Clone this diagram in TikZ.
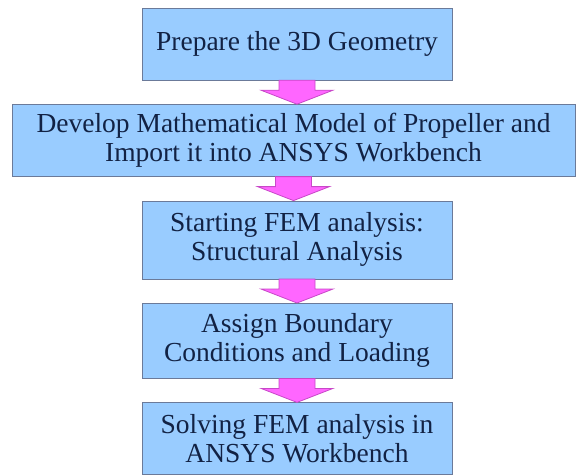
\documentclass[tikz,border=0pt]{standalone}
\usepackage{fontspec}
\setmainfont{Liberation Serif}
\usetikzlibrary{positioning,calc}
\definecolor{boxblue}{HTML}{99CCFF}
\definecolor{boxedge}{HTML}{6B7A99}
\definecolor{ink}{HTML}{122244}
\definecolor{pink}{HTML}{FF66FF}
\definecolor{pinkedge}{HTML}{C848C8}

\begin{document}
\begin{tikzpicture}[x=1pt,y=1pt,node distance=24pt,
      stage/.style={draw=boxedge,fill=boxblue,text=ink,align=center,minimum width=310pt,minimum height=72pt,inner sep=2pt,font=\fontsize{27.5}{29}\selectfont},
      down/.style={draw=pinkedge,fill=pink,line width=0.8pt}]
    \useasboundingbox (0,0) rectangle (577,-474);
    \node[stage] (geo) at (297,-44) {Prepare the 3D Geometry};
    \node[stage,minimum width=563pt,below=of geo,xshift=-3.5pt] (model) {Develop Mathematical Model of Propeller and\\Import it into ANSYS Workbench};
    \node[stage,minimum height=78pt,below=of model,xshift=3.5pt] (fem) {Starting FEM analysis:\\Structural Analysis};
    \node[stage,minimum height=75pt,below=of fem] (bc) {Assign Boundary\\Conditions and Loading};
    \node[stage,below=of bc] (solve) {Solving FEM analysis in\\ANSYS Workbench};
    \foreach \a/\b in {geo/model,model/fem,fem/bc,bc/solve}{
      \draw[down] let \p1=(\a.south), \p2=(\b.north) in
        (\x1-18pt,\y1) -- (\x1+18pt,\y1) -- (\x1+18pt,\y2+14pt) -- (\x1+36pt,\y2+14pt)
        -- (\x1,\y2) -- (\x1-36pt,\y2+14pt) -- (\x1-18pt,\y2+14pt) -- cycle;}
  \end{tikzpicture}
\end{document}
